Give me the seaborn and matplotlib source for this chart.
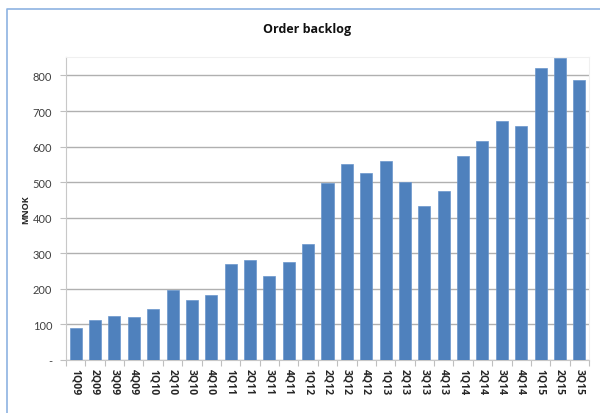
import matplotlib
matplotlib.use("Agg")
import matplotlib.pyplot as plt
import numpy as np
import pandas as pd
import seaborn as sns
from matplotlib.lines import Line2D

# Order backlog per quarter (MNOK)
quarters = ['1Q09', '2Q09', '3Q09', '4Q09',
            '1Q10', '2Q10', '3Q10', '4Q10',
            '1Q11', '2Q11', '3Q11', '4Q11',
            '1Q12', '2Q12', '3Q12', '4Q12',
            '1Q13', '2Q13', '3Q13', '4Q13',
            '1Q14', '2Q14', '3Q14', '4Q14',
            '1Q15', '2Q15', '3Q15']
backlog = [90, 113, 125, 120,
           143, 197, 170, 182,
           270, 280, 236, 275,
           325, 498, 552, 525,
           560, 500, 433, 475,
           575, 617, 672, 658,
           822, 850, 786]
ytick_vals = [0, 100, 200, 300, 400, 500, 600, 700, 800]
ytick_labels = ['-', '100', '200', '300', '400', '500', '600', '700', '800']

sns.set_theme(style="white")
plt.rcParams['font.family'] = ['Lato', 'DejaVu Sans']
bold_font = ['Open Sans', 'DejaVu Sans']

df = pd.DataFrame({'Quarter': quarters, 'MNOK': backlog})

fig, ax = plt.subplots(figsize=(6.0, 4.14), dpi=100)
fig.subplots_adjust(left=66 / 600, right=589 / 600, top=1 - 58 / 414, bottom=1 - 361 / 414)

sns.barplot(data=df, x='Quarter', y='MNOK', color='#4F81BD', width=0.62,
            saturation=1, edgecolor='#6A96CC', linewidth=0.5, ax=ax, zorder=3)

ax.set_ylim(0, 852)
ax.set_xlim(-0.5, len(quarters) - 0.5)
ax.set_yticks(ytick_vals)
ax.set_yticklabels(ytick_labels, fontsize=8, color='#404040')
ax.yaxis.grid(True, color='#B0B0B0', linewidth=1.0, zorder=0)
ax.tick_params(axis='y', direction='out', length=4, width=0.8, color='#BFBFBF', pad=6, left=True)

# category labels, with tick marks between the bars
ax.set_xticks(range(len(quarters)))
ax.set_xticklabels(quarters, rotation=270, fontsize=7.5, fontweight='bold',
                   family=bold_font, color='#262626')
ax.set_xticks(np.arange(-0.5, len(quarters), 1.0), minor=True)
ax.tick_params(axis='x', which='major', length=0, pad=6)
ax.tick_params(axis='x', which='minor', direction='out', length=4, width=0.8, color='#BFBFBF', bottom=True)

for side in ['left', 'bottom']:
    ax.spines[side].set_color('#C8C8C8')
    ax.spines[side].set_linewidth(0.8)
for side in ['top', 'right']:
    ax.spines[side].set_color('#F0F0F0')
    ax.spines[side].set_linewidth(0.8)

ax.set_xlabel('')
ax.set_ylabel('MNOK', fontsize=6.5, fontweight='bold', family=bold_font,
              color='#262626', labelpad=2)

fig.text(307 / 600, 1 - 30 / 414, 'Order backlog', ha='center', va='center',
         fontsize=9, fontweight='bold', family=bold_font, color='#111111')

# outer chart frame (left and top edges)
fig.add_artist(Line2D([7 / 600, 7 / 600, 1.0], [0.0, 1 - 10 / 414, 1 - 10 / 414],
                      transform=fig.transFigure, color='#8DB3E2', linewidth=1.2))

fig.savefig('out.png', dpi=100)
